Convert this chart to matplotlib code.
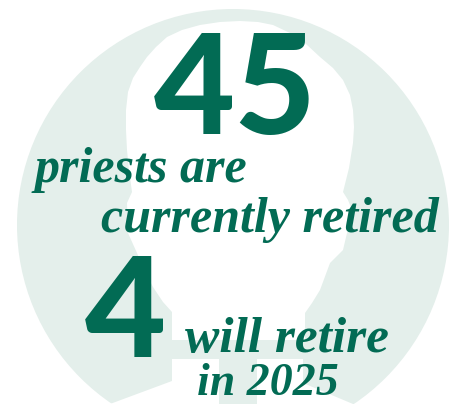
import matplotlib
matplotlib.use("Agg")
import matplotlib.pyplot as plt
from matplotlib.patches import Circle, Polygon

GREEN = "#026b54"
PALE = "#e4efeb"

big_numbers = ["45", "4"]
captions = ["priests are", "currently retired", "will retire", "in 2025"]
caption_sizes = [36, 36, 37, 33]

# silhouette, clockwise from the left ear
head_x = [132, 129, 127, 126, 126, 128, 133, 140, 147, 156, 167, 182, 200, 220, 240, 258, 273, 290, 306, 320, 333, 343,
          350, 353, 354, 353, 349, 343, 348, 352, 352, 350, 347, 343, 330, 320, 312, 305, 305,
          172, 172, 163, 153, 144, 137, 128, 127]
head_y = [192, 170, 150, 130, 110, 92, 78, 67, 57, 47, 37, 30, 25, 22, 21, 22, 25, 33, 44, 57, 68, 80,
          95, 110, 127, 143, 168, 192, 200, 210, 220, 228, 233, 250, 263, 290, 303, 313, 340,
          340, 312, 302, 287, 270, 253, 233, 203]
# white gaps either side of the collar cross
gap_left_x = [172, 219, 219, 110, 172]
gap_left_y = [359, 359, 404, 404, 381]
gap_right_x = [257, 303, 303, 353, 257]
gap_right_y = [359, 359, 383, 404, 404]

fig = plt.figure(figsize=(4.58, 4.04), dpi=100)
ax = fig.add_axes([0, 0, 1, 1])
ax.set_xlim(0, 458)
ax.set_ylim(404, 0)
ax.axis("off")

ax.add_patch(Circle((233, 225), 216, color=PALE, lw=0))
for xs, ys in [(head_x, head_y), (gap_left_x, gap_left_y), (gap_right_x, gap_right_y)]:
    ax.add_patch(Polygon(list(zip(xs, ys)), closed=True, color="white", lw=0))

number = dict(fontsize=101, family="Lato", weight=900, color=GREEN, ha="center", va="baseline")
ax.text(235, 134, big_numbers[0], **number)
ax.text(126, 357, big_numbers[1], **number)

script = dict(family="Liberation Serif", style="italic", weight="bold", color=GREEN, va="baseline")
ax.text(35, 182, captions[0], fontsize=caption_sizes[0], **script)
ax.text(101, 232, captions[1], fontsize=caption_sizes[1], **script)
ax.text(185, 352, captions[2], fontsize=caption_sizes[2], **script)
ax.text(197, 395, captions[3], fontsize=caption_sizes[3], **script)

fig.savefig("out.png", dpi=100)
